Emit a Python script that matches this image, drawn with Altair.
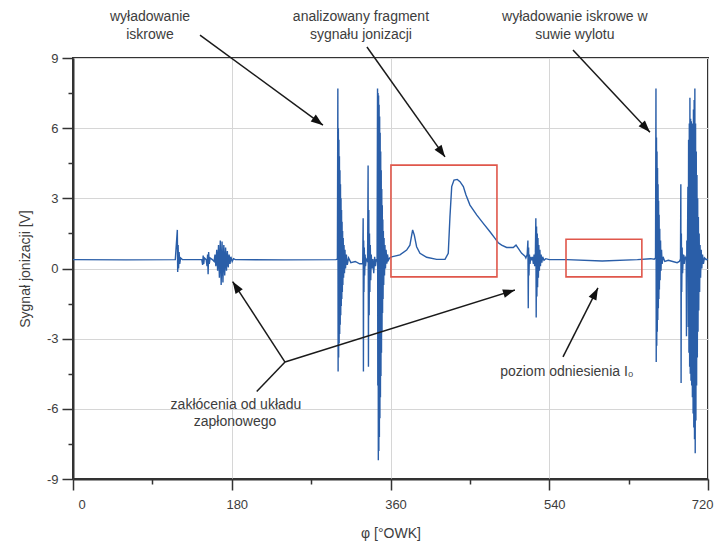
import math
import altair as alt
import pandas as pd

# ---- ionisation signal: [crank angle deg, signal V] ----
quiet_start = [
    [0, 0.38], [60, 0.37], [116, 0.38], [118.3, 1.65], [118.7, -0.15], [119.2, 1.0],
    [119.7, 0.0], [120.3, 0.7], [121, 0.2], [122, 0.45], [124, 0.38], [145, 0.38],
]
ignition_noise = [
    [146, 0.38], [147, 0.15], [147.6, 0.55], [148.2, 0.2], [149, 0.45], [151, 0.38],
    [152, 0.1], [152.6, 0.6], [153.2, -0.25], [153.8, 0.7], [154.5, 0.2], [155.5, 0.45],
    [158, 0.38], [160, 0.3], [161, 0.6], [162, 0.1], [163, 0.8], [164, -0.1], [165, 1.0],
    [166, -0.4], [167, 1.2], [168, -0.7], [169, 1.15], [170, -0.6], [171, 1.0], [172, -0.3],
    [173, 0.9], [174, -0.1], [175, 0.75], [176, 0.05], [177, 0.6], [178, 0.2], [179, 0.5],
    [180.5, 0.3], [182, 0.42], [184, 0.38], [240, 0.37], [298, 0.38], [299.8, 0.4],
]
spark_1 = [
    [300.3, 7.7], [300.6, -4.4], [300.9, 6.0], [301.2, -3.8], [301.5, 5.5], [301.8, -3.2],
    [302.1, 4.8], [302.4, -2.8], [302.7, 4.2], [303.0, -2.4], [303.3, 3.6], [303.6, -2.0],
    [303.9, 3.0], [304.2, -1.6], [304.5, 2.5], [304.8, -1.3], [305.1, 2.0], [305.4, -1.0],
    [305.7, 1.6], [306.0, -0.7], [306.4, 1.3], [306.8, -0.4], [307.3, 1.0], [307.8, -0.2],
    [308.4, 0.8], [309, 0.0], [310, 0.6], [311, 0.15], [312.5, 0.45], [315, 0.25],
    [320, 0.3], [325, 0.2], [328.5, 0.2],
    [329, 2.15], [329.3, -4.4], [329.6, 1.2], [329.9, -1.0], [330.3, 0.9], [330.7, -0.3],
    [331.2, 0.6], [331.7, 0.1], [332.5, 0.4], [334, 0.3],
    [334.6, 4.4], [335, -4.2], [335.4, 2.5], [335.8, -2.0], [336.2, 1.5], [336.6, -1.0],
    [337.1, 1.0], [337.6, -0.5], [338.2, 0.6], [339, 0.0], [340, 0.4], [341, -0.2],
    [342, 0.5], [343, 0.1], [344, 0.4], [344.8, 0.3],
    [345.3, 7.7], [345.6, -5.0], [345.9, 7.5], [346.2, -8.2], [346.5, 7.4], [346.8, -7.8],
    [347.1, 7.0], [347.4, -7.2], [347.7, 6.5], [348.0, -6.4], [348.3, 5.8], [348.6, -5.5],
    [348.9, 5.0], [349.2, -4.6], [349.5, 4.2], [349.8, -3.6], [350.1, 3.4], [350.4, -2.7],
    [350.7, 2.7], [351.0, -1.9], [351.3, 2.1], [351.6, -1.3], [351.9, 1.6], [352.3, -0.7],
    [352.7, 1.3], [353.2, -0.3], [353.7, 1.0], [354.3, 0.0], [355, 0.8], [355.8, 0.2],
    [356.6, 0.6], [357.5, 0.35], [359, 0.45],
]
combustion = [
    [361.3, 0.50], [370.7, 0.58], [378.3, 0.79], [382, 1.0], [385.1, 1.65], [387, 1.43],
    [389.6, 0.93], [393.4, 0.65], [401, 0.48], [412.3, 0.39], [421.8, 0.39], [425.5, 0.65],
    [427.4, 2.2], [429.4, 3.5], [432, 3.78], [435.7, 3.81], [438.8, 3.71], [442.6, 3.5],
    [445.6, 3.14], [450.1, 2.71], [457.7, 2.29], [465.2, 1.93], [472.8, 1.57], [478.5, 1.29],
    [482.2, 1.10], [486, 1.0], [491.7, 0.9], [499.2, 0.9], [502.3, 1.0], [504.9, 0.86],
    [508.7, 0.65], [512.5, 0.53], [513.5, 0.45], [515, 0.6],
]
late_noise = [
    [515.8, 1.2], [516.2, -1.7], [516.6, 0.9], [517, -0.3], [517.5, 0.6], [518.2, 0.2],
    [519, 0.5], [520, 0.35], [521, 0.5], [522, 0.2], [522.8, 0.6], [523.5, 0.1],
    [524.3, 0.7], [524.8, 2.15], [525.2, -2.1], [525.6, 1.8], [526, -1.2], [526.4, 1.5],
    [526.8, -0.8], [527.2, 1.3], [527.7, -0.4], [528.2, 1.0], [528.8, -0.1], [529.4, 0.8],
    [530, 0.1], [530.8, 0.6], [531.6, 0.25], [532.5, 0.5], [534, 0.35], [536, 0.42],
    [540, 0.38], [560, 0.38], [600, 0.32], [640, 0.38], [655, 0.42], [659, 0.4],
    [660.5, 0.45],
]
spark_2 = [
    [661, 7.7], [661.3, -4.0], [661.6, 5.6], [661.9, -3.3], [662.2, 5.0], [662.5, -2.7],
    [662.8, 4.3], [663.1, -2.2], [663.4, 3.6], [663.7, -1.7], [664.0, 2.9], [664.3, -1.3],
    [664.6, 2.3], [664.9, -0.9], [665.3, 1.7], [665.7, -0.5], [666.2, 1.2], [666.7, -0.1],
    [667.3, 0.8], [668, 0.2], [669, 0.5], [671, 0.3], [675, 0.35], [680, 0.3], [685, 0.25],
    [687.5, 0.3], [688.8, 0.4],
    [689.2, 3.6], [689.5, -4.9], [689.8, 1.5], [690.2, -1.0], [690.7, 0.9], [691.2, -0.2],
    [692, 0.6], [693, 0.2], [694, 0.5], [695.3, 0.4], [695.6, -2.9], [696, 1.2],
    [696.5, -0.3], [697.2, 3.5], [697.6, -2.5], [698, 5.5], [698.4, -3.6], [698.8, 6.2],
    [699.2, -4.2], [699.5, 7.3], [699.9, -4.5], [700.3, 6.4], [700.7, -4.8], [701.1, 6.3],
    [701.5, -5.0], [701.9, 6.0], [702.3, -5.5], [702.7, 6.2], [703.1, -6.2], [703.5, 6.8],
    [703.9, -6.8], [704.3, 7.2], [704.7, -7.3], [705.1, 7.7], [705.5, -7.9], [705.9, 6.2],
    [706.3, -6.5], [706.7, 5.0], [707.1, -5.0], [707.5, 4.0], [707.9, -3.8], [708.3, 3.0],
    [708.7, -2.7], [709.1, 2.2], [709.5, -1.8], [710, 1.5], [710.5, -1.0], [711, 1.0],
    [711.6, -0.4], [712.3, 0.8], [713, 0.0], [713.8, 0.6], [714.8, 0.2], [716, 0.45],
    [718, 0.38], [720, 0.4],
]

# ---- red frames ----
box_x1 = [360.5, 559.0]
box_x2 = [480.7, 645.0]
box_y1 = [-0.36, -0.36]
box_y2 = [4.42, 1.25]

# ---- annotation texts ----
note_text = ["wyładowanie", "iskrowe", "analizowany fragment", "sygnału jonizacji",
             "wyładowanie iskrowe w", "suwie wylotu", "zakłócenia od układu",
             "zapłonowego", "poziom odniesienia I₀"]
note_x = [87.3, 87.3, 326.5, 326.5, 569.0, 569.0, 184.8, 183.7, 560.0]
note_y = [10.75, 9.98, 10.75, 9.98, 10.75, 9.98, -5.83, -6.56, -4.42]

# ---- arrows (start -> tip) ----
arr_x1 = [144.0, 333.3, 566.9, 240.4, 240.4, 240.4, 555.6]
arr_y1 = [9.98, 9.47, 9.34, -4.0, -4.0, -4.0, -3.78]
arr_x2 = [283.4, 421.8, 654.2, 181.0, 501.1, 208.3, 595.2]
arr_y2 = [6.13, 4.77, 5.83, -0.56, -0.92, -5.26, -0.83]
arr_head = [True, True, True, True, True, False, True]

PW, PH = 635, 421
kx, ky = PW / 720.0, PH / 18.0

pts = quiet_start + ignition_noise + spark_1 + combustion + late_noise + spark_2
sig_df = pd.DataFrame(pts, columns=["phi", "signal"])
box_df = pd.DataFrame({"x1": box_x1, "x2": box_x2, "y1": box_y1, "y2": box_y2})
note_df = pd.DataFrame({"x": note_x, "y": note_y, "t": note_text})
arr_df = pd.DataFrame({"x1": arr_x1, "y1": arr_y1, "x2": arr_x2, "y2": arr_y2, "head": arr_head})
arr_df["ang"] = [
    math.degrees(math.atan2((b - a) * kx, (d - c) * ky)) % 360
    for a, b, c, d in zip(arr_x1, arr_x2, arr_y1, arr_y2)
]
head_df = arr_df[arr_df["head"]].copy()

FONT = "Liberation Sans"
TXT = "#3d3d3d"
AX = "#333333"

xs = alt.Scale(domain=[0, 720], nice=False, zero=False)
ys = alt.Scale(domain=[-9, 9], nice=False, zero=False)

sig = alt.Chart(sig_df).mark_line(color="#2a5ea8", strokeWidth=1.4, clip=True).encode(
    x=alt.X("phi:Q", scale=xs, axis=alt.Axis(
        values=[0, 180, 360, 540, 720], labelExpr="'' + datum.value",
        title="φ [°OWK]", grid=True, gridColor="#d6d6d6", gridWidth=1,
        domainColor=AX, domainWidth=2, tickColor=AX, tickWidth=1.5, tickSize=11,
        labelFont=FONT, labelFontSize=13, labelColor=TXT, labelPadding=8, labelOffset=5,
        titleFont=FONT, titleFontSize=14, titleFontWeight="normal", titleColor=TXT,
        titlePadding=15, orient="bottom")),
    y=alt.Y("signal:Q", scale=ys, axis=alt.Axis(
        values=[-9, -6, -3, 0, 3, 6, 9], labelExpr="'' + datum.value",
        title="Sygnał jonizacji [V]", grid=True, gridColor="#d6d6d6", gridWidth=1,
        domainColor=AX, domainWidth=2, tickColor=AX, tickWidth=1.5, tickSize=11,
        labelFont=FONT, labelFontSize=13, labelColor=TXT, labelPadding=4,
        titleFont=FONT, titleFontSize=14, titleFontWeight="normal", titleColor=TXT,
        titlePadding=14, orient="left")),
    order=alt.Order("phi:Q"),
)

minor = alt.Chart(box_df).mark_point(opacity=0).encode(
    x=alt.X("x1:Q", scale=xs, axis=alt.Axis(
        values=[90, 270, 450, 630], labels=False, domain=False, grid=False,
        tickColor=AX, tickWidth=1.5, tickSize=5, title=None, orient="bottom")),
    y=alt.Y("y1:Q", scale=ys, axis=alt.Axis(
        values=[-7.5, -4.5, -1.5, 1.5, 4.5, 7.5], labels=False, domain=False, grid=False,
        tickColor=AX, tickWidth=1.5, tickSize=5, title=None, orient="left")),
)

boxes = alt.Chart(box_df).mark_rect(fillOpacity=0, stroke="#e0574b", strokeWidth=1.6).encode(
    x=alt.X("x1:Q", scale=xs, axis=None), x2="x2:Q",
    y=alt.Y("y1:Q", scale=ys, axis=None), y2="y2:Q",
)

rules = alt.Chart(arr_df).mark_rule(color="#1a1a1a", strokeWidth=1.5).encode(
    x=alt.X("x1:Q", scale=xs, axis=None), x2="x2:Q",
    y=alt.Y("y1:Q", scale=ys, axis=None), y2="y2:Q",
)

heads = alt.Chart(head_df).mark_point(
    shape="M0,0L-0.36,1L0.36,1Z", filled=True, color="#111111", opacity=1,
    size=576, strokeWidth=0,
).encode(
    x=alt.X("x2:Q", scale=xs, axis=None),
    y=alt.Y("y2:Q", scale=ys, axis=None),
    angle=alt.Angle("ang:Q", scale=None),
)

notes = alt.Chart(note_df).mark_text(
    font=FONT, fontSize=14, color=TXT, align="center", baseline="middle",
).encode(
    x=alt.X("x:Q", scale=xs, axis=None),
    y=alt.Y("y:Q", scale=ys, axis=None),
    text="t:N",
)

chart = (
    alt.layer(sig, minor, boxes, rules, heads, notes)
    .resolve_axis(x="independent", y="independent")
    .properties(width=PW, height=PH, autosize="none",
                padding={"left": 73, "top": 58, "right": 15, "bottom": 63},
                background="white")
    .configure_view(stroke=AX, strokeWidth=2)
)

chart.save("out.html", embed_options={"renderer": "svg", "actions": False})
